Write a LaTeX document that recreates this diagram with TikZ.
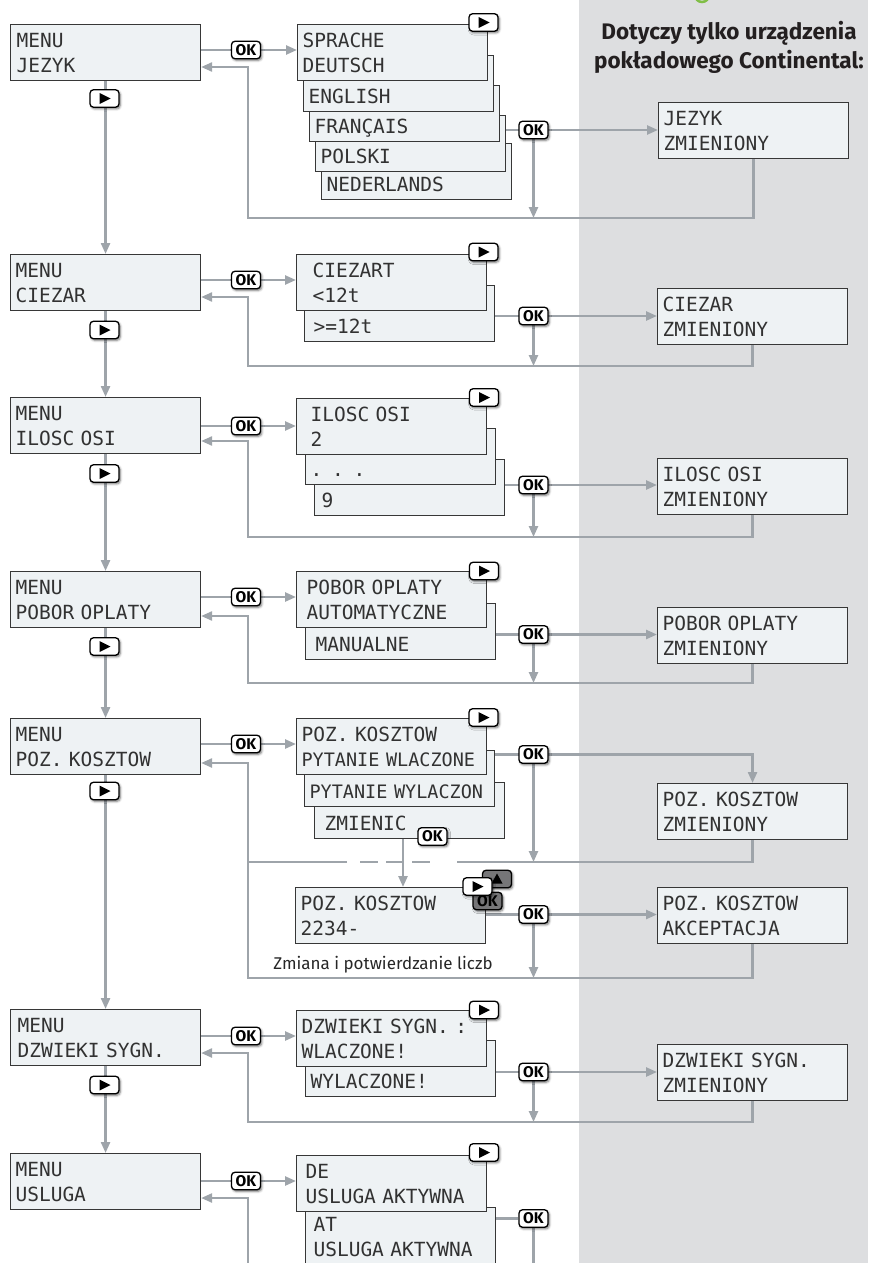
\documentclass[tikz,border=0pt]{standalone}
\usepackage{fontspec}
\setmainfont{Fira Sans}
\newfontfamily\lcdfont{DejaVu Sans Mono}
\newcommand{\lcdnarrow}{\fontsize{18.5}{25}\selectfont}
\usetikzlibrary{arrows.meta,shadows.blur}
\pgfdeclarelayer{wires}
\pgfdeclarelayer{front}
\pgfsetlayers{main,wires,front}
\definecolor{linegray}{RGB}{158,164,170}
\definecolor{panelgray}{RGB}{221,222,224}
\definecolor{lcdfill}{RGB}{238,242,244}
\definecolor{lcdborder}{RGB}{55,55,55}
\definecolor{lcdtext}{RGB}{50,50,50}
\definecolor{btndark}{RGB}{118,118,120}
\definecolor{logogreen}{RGB}{128,190,70}
\definecolor{hdrtext}{RGB}{35,31,32}
\begin{document}
\begin{tikzpicture}[x=1pt,y=-1pt,
  conn/.style={draw=linegray,line width=2.4pt},
  arr/.style={conn,-{Triangle[length=11pt,width=9pt]}},
  lcd/.style={draw=lcdborder,fill=lcdfill,line width=1.1pt,anchor=north west,
    minimum width=190pt,minimum height=56pt,text width=180pt,inner xsep=5pt,inner ysep=0pt,
    align=left,text height=14.2pt,text depth=25pt,text=lcdtext,
    font=\lcdfont\fontsize{19.5}{25}\selectfont},
  btn/.style={draw=black,line width=1.3pt,rounded corners=3.5pt,minimum width=29pt,
    minimum height=17.5pt,inner sep=0pt,
    blur shadow={shadow xshift=1.3pt,shadow yshift=-1.6pt,shadow blur radius=2.2pt,shadow opacity=55}},
  okbtn/.style={btn,fill=white,font=\bfseries\fontsize{15.5}{15.5}\selectfont},
  okdark/.style={btn,fill=btndark,font=\bfseries\fontsize{15.5}{15.5}\selectfont},
  playbtn/.style={btn,fill=white,path picture={\fill[black,sharp corners] (path picture bounding box.center) ++(-5,-5.5) -- ++(0,11) -- ++(11,-5.5) -- cycle;}},
  updark/.style={btn,fill=btndark,path picture={\fill[black,sharp corners] (path picture bounding box.center) ++(-5.5,4.5) -- ++(11,0) -- ++(-5.5,-10) -- cycle;}},
  hdr/.style={font=\bfseries\fontsize{22.5}{30}\selectfont,text=hdrtext,anchor=base,inner sep=0pt}
]
\useasboundingbox (0,0) rectangle (868,1263);
\fill[panelgray] (579,0) rectangle (868,1263);
\draw[logogreen,line width=2.5pt] (702,-5) circle (7pt);

% ---------- coordinates ----------
\coordinate (rin1) at (248,67);   \coordinate (ret1) at (248,218);
\coordinate (rin2) at (248,297);  \coordinate (ret2) at (248,366);
\coordinate (rin3) at (248,441);  \coordinate (ret3) at (248,537);
\coordinate (rin4) at (248,616);  \coordinate (ret4) at (248,683);
\coordinate (rin5) at (248,763);  \coordinate (ret5) at (248,862);
\coordinate (ret6) at (248,978);
\coordinate (rin7) at (248,1053); \coordinate (ret7) at (248,1122);
\coordinate (rin8) at (248,1198); \coordinate (bot8) at (248,1280);
\coordinate (bot8r) at (533.5,1280);
\coordinate (dA) at (347,862); \coordinate (dB) at (360,862);
\coordinate (dC) at (431,862); \coordinate (dD) at (457,862);
\coordinate (c5x) at (403,0);

\begin{pgfonlayer}{front}
\node[hdr] (hdr1) at (729,40) {Dotyczy tylko urządzenia};
\node[hdr] (hdr2) at (729,69) {pokładowego Continental:};

% ---------- section 1 ----------
\node[lcd] (m1) at (10,24) {\hspace*{1pt}MENU\\\hspace*{1pt}JEZYK};
\node[lcd] (s1e) at (321,143) {\mbox{}\\NEDERLANDS};
\node[lcd] (s1d) at (315,115) {\mbox{}\\POLSKI};
\node[lcd] (s1c) at (309,85) {\mbox{}\\FRANÇAIS};
\node[lcd] (s1b) at (303,55) {\mbox{}\\ENGLISH};
\node[lcd] (s1a) at (297,24) {SPRACHE\\DEUTSCH};
\node[lcd] (z1) at (658,102) {JEZYK\\ZMIENIONY};

% ---------- section 2 ----------
\node[lcd] (m2) at (10,254) {MENU\\CIEZAR};
\node[lcd] (s2b) at (304,285) {\mbox{}\\\hspace*{4pt}>=12t};
\node[lcd] (s2a) at (296,254) {\hspace*{11pt}CIEZART\\\hspace*{11pt}<12t};
\node[lcd] (z2) at (657,288) {CIEZAR\\ZMIENIONY};

% ---------- section 3 ----------
\node[lcd] (m3) at (10,397) {MENU\\ILOSC OSI};
\node[lcd] (s3c) at (314,459) {\mbox{}\\\hspace*{2pt}9};
\node[lcd] (s3b) at (305,428) {\mbox{}\\. . .};
\node[lcd] (s3a) at (296,398) {\hspace*{9pt}ILOSC OSI\\\hspace*{9pt}2};
\node[lcd] (z3) at (657,458) {ILOSC OSI\\ZMIENIONY};

% ---------- section 4 ----------
\node[lcd] (m4) at (10,571) {MENU\\POBOR OPLATY};
\node[lcd] (s4b) at (305,603) {\mbox{}\\\hspace*{5pt}MANUALNE};
\node[lcd] (s4a) at (296,571) {\hspace*{5pt}POBOR OPLATY\\\hspace*{5pt}AUTOMATYCZNE};
\node[lcd] (z4) at (657,607) {POBOR OPLATY\\ZMIENIONY};

% ---------- section 5 ----------
\node[lcd] (m5) at (10,718) {MENU\\POZ. KOSZTOW};
\node[lcd] (s5c) at (314,782) {\mbox{}\\\hspace*{5pt}ZMIENIC};
\node[lcd] (s5b) at (304,750) {\mbox{}\\{\lcdnarrow PYTANIE WYLACZON}};
\node[lcd] (s5a) at (296,718) {POZ. KOSZTOW\\{\lcdnarrow PYTANIE WLACZONE}};
\node[lcd] (z5) at (657,783) {POZ. KOSZTOW\\ZMIENIONY};
\node[lcd] (s6) at (295,887) {POZ. KOSZTOW\\2234-};
\node[lcd] (z6) at (657,887) {POZ. KOSZTOW\\AKCEPTACJA};
\node[anchor=base,inner sep=0pt,font=\fontsize{17}{20}\selectfont,text=black!85] (lbl6) at (383,969) {Zmiana i potwierdzanie liczb};

% ---------- section 6 ----------
\node[lcd] (m6) at (10,1009) {\hspace*{2pt}MENU\\\hspace*{2pt}DZWIEKI SYGN.};
\node[lcd] (s7b) at (305,1040) {\mbox{}\\WYLACZONE!};
\node[lcd] (s7a) at (296,1010) {DZWIEKI SYGN. :\\WLACZONE!};
\node[lcd] (z7) at (657,1044) {DZWIEKI SYGN.\\ZMIENIONY};

% ---------- section 7 ----------
\node[lcd] (m7) at (10,1153) {MENU\\USLUGA};
\node[lcd,minimum height=58pt] (s8b) at (305,1207) {\hspace*{3pt}AT\\\hspace*{3pt}USLUGA AKTYWNA};
\node[lcd] (s8a) at (296,1155) {\hspace*{4pt}DE\\\hspace*{4pt}USLUGA AKTYWNA};

% ---------- buttons ----------
\node[playbtn] (pl1s) at (483.5,22.5) {};
\node[okbtn] (ok1) at (246,50) {OK};
\node[okbtn] (ok1r) at (533.5,130) {OK};
\node[playbtn] (pl1) at (104.5,98.5) {};

\node[playbtn] (pl2s) at (483.5,252) {};
\node[okbtn] (ok2) at (246,280) {OK};
\node[okbtn] (ok2r) at (533.5,316) {OK};
\node[playbtn] (pl2) at (104.5,330) {};

\node[playbtn] (pl3s) at (484,397.5) {};
\node[okbtn] (ok3) at (246,426) {OK};
\node[okbtn] (ok3r) at (533.5,485) {OK};
\node[playbtn] (pl3) at (104.5,473.5) {};

\node[playbtn] (pl4s) at (484,571) {};
\node[okbtn] (ok4) at (246,597) {OK};
\node[okbtn] (ok4r) at (533.5,634.5) {OK};
\node[playbtn] (pl4) at (104.5,646.5) {};

\node[playbtn] (pl5s) at (483.5,717.5) {};
\node[okbtn] (ok5) at (246,744) {OK};
\node[okbtn] (ok5r) at (533.5,754.5) {OK};
\node[okbtn] (ok5c) at (432.5,836.5) {OK};
\node[playbtn] (pl5) at (104.5,791) {};
\node[updark] (up6) at (497,879) {};
\node[okdark] (okd6) at (487.5,901) {OK};
\node[playbtn] (pl6) at (477.5,886.5) {};
\node[okbtn] (ok6r) at (533.5,914.5) {OK};

\node[playbtn] (pl7s) at (484,1010) {};
\node[okbtn] (ok7) at (246,1036) {OK};
\node[okbtn] (ok7r) at (533.5,1072) {OK};
\node[playbtn] (pl7) at (104.5,1085) {};

\node[playbtn] (pl8s) at (484,1152.5) {};
\node[okbtn] (ok8) at (246,1181) {OK};
\node[okbtn] (ok8r) at (533.5,1218.5) {OK};
\end{pgfonlayer}

% ---------- connectors ----------
\begin{pgfonlayer}{wires}
  % main spine
  \draw[arr] (m1.south) -- (m2.north);
  \draw[arr] (m2.south) -- (m3.north);
  \draw[arr] (m3.south) -- (m4.north);
  \draw[arr] (m4.south) -- (m5.north);
  \draw[arr] (m5.south) -- (m6.north);
  \draw[arr] (m6.south) -- (m7.north);
  % section 1
  \draw[arr] (m1.east |- ok1) -- (s1a.west |- ok1);
  \draw[arr] (z1.south) |- (ret1) |- (m1.east |- rin1);
  \draw[arr] (s1d.east |- ok1r) -- (z1.west |- ok1r);
  \draw[arr] (ok1r) -- (ok1r |- ret1);
  % section 2
  \draw[arr] (m2.east |- ok2) -- (s2a.west |- ok2);
  \draw[arr] (z2.south) |- (ret2) |- (m2.east |- rin2);
  \draw[arr] (s2b.east |- ok2r) -- (z2.west |- ok2r);
  \draw[arr] (ok2r) -- (ok2r |- ret2);
  % section 3
  \draw[arr] (m3.east |- ok3) -- (s3a.west |- ok3);
  \draw[arr] (z3.south) |- (ret3) |- (m3.east |- rin3);
  \draw[arr] (s3c.east |- ok3r) -- (z3.west |- ok3r);
  \draw[arr] (ok3r) -- (ok3r |- ret3);
  % section 4
  \draw[arr] (m4.east |- ok4) -- (s4a.west |- ok4);
  \draw[arr] (z4.south) |- (ret4) |- (m4.east |- rin4);
  \draw[arr] (s4b.east |- ok4r) -- (z4.west |- ok4r);
  \draw[arr] (ok4r) -- (ok4r |- ret4);
  % section 5
  \draw[arr] (m5.east |- ok5) -- (s5a.west |- ok5);
  \draw[arr] (s5b.east |- ok5r) -| (z5.north);
  \draw[arr] (ok5r) -- (ok5r |- ret5);
  \draw[conn] (z5.south) |- (dD);
  \draw[conn,dash pattern=on 18pt off 8pt] (dB) -- (dC);
  \draw[conn] (dA) -- (ret5);
  \draw[arr] (c5x |- s5c.south) -- (c5x |- s6.north);
  \draw[arr] (z6.south) |- (ret6) |- (m5.east |- rin5);
  \draw[arr] (s6.east |- ok6r) -- (z6.west |- ok6r);
  \draw[arr] (ok6r) -- (ok6r |- ret6);
  % section 6
  \draw[arr] (m6.east |- ok7) -- (s7a.west |- ok7);
  \draw[arr] (z7.south) |- (ret7) |- (m6.east |- rin7);
  \draw[arr] (s7b.east |- ok7r) -- (z7.west |- ok7r);
  \draw[arr] (ok7r) -- (ok7r |- ret7);
  % section 7
  \draw[arr] (m7.east |- ok8) -- (s8a.west |- ok8);
  \draw[arr] (bot8) |- (m7.east |- rin8);
  \draw[conn] (s8b.east |- ok8r) -- (ok8r);
  \draw[conn] (ok8r) -- (bot8r);
\end{pgfonlayer}
\end{tikzpicture}
\end{document}
